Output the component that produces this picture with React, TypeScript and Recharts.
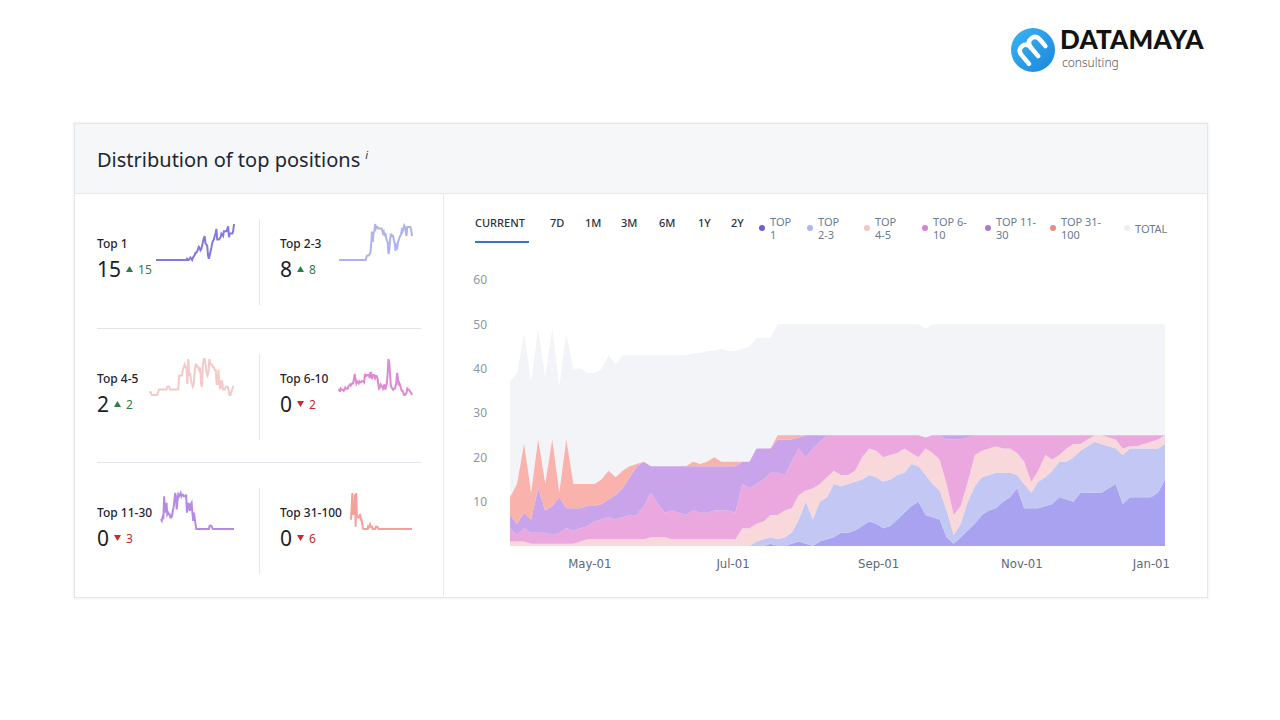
import { Area, AreaChart, Line, LineChart, XAxis, YAxis } from "recharts";

const FONT = "'Noto Sans', 'Open Sans', sans-serif";
const DAY = 86400000;
const START = Date.UTC(2022, 2, 28);
const STEP_DAYS = 3;
const MONTHS = ["Jan", "Feb", "Mar", "Apr", "May", "Jun", "Jul", "Aug", "Sep", "Oct", "Nov", "Dec"];

// daily position counts, one sample every 3 days
const top1 = [
  0, 0, 0, 0, 0, 0, 0, 0, 0, 0,
  0, 0, 0, 0, 0, 0, 0, 0, 0, 0,
  0, 0, 0, 0, 0, 0, 0, 0, 0, 0,
  0, 0, 0, 0, 0, 0, 0, 0.5, 0, 0,
  0.5, 1, 0.5, 0, 1, 1.5, 2, 3, 3, 3.5,
  4.5, 5.5, 5, 4, 4.5, 6, 7.5, 9, 10, 7,
  6.5, 6, 2, 0.5, 2, 3.5, 5, 7, 8, 8.5,
  10, 11, 13, 8.5, 8.5, 8.5, 9, 9.5, 11, 10.5,
  10, 12, 12, 12, 12, 13, 14, 9.5, 11, 11,
  11, 11, 12, 15,
];
const top2to3 = [
  0, 0, 0, 0, 0, 0, 0, 0, 0, 0,
  0, 0, 0, 0, 0, 0, 0, 0, 0, 0,
  0, 0, 0, 0, 0, 0, 0, 0, 0, 0,
  0, 0, 0, 0, 0, 1, 1.5, 1.5, 1.5, 2,
  2.5, 5, 9.5, 6, 9, 9.5, 12, 10.5, 11, 11,
  10.5, 10.5, 10.5, 10.5, 10.5, 10, 9, 9.5, 8, 9,
  7.5, 6.5, 6, 2, 3, 6.5, 8.5, 8.5, 8, 8,
  6.5, 5.5, 3, 5.5, 3.5, 6, 6.5, 7.5, 8, 8.5,
  10, 9.5, 10.5, 11.5, 11, 9.5, 8, 11, 11, 11,
  11, 11, 10, 8,
];
const top4to5 = [
  1, 1, 1, 0.5, 0.5, 0.5, 0.5, 0.5, 0.5, 0.5,
  1, 1.5, 1.5, 1.5, 1.5, 1.5, 1.5, 1.5, 1.5, 1.5,
  2, 2, 2, 1.5, 1.5, 1.5, 1.5, 1.5, 1.5, 1.5,
  1.5, 1.5, 1.5, 4, 4, 4, 4, 5, 5.5, 6,
  5.5, 5.5, 2.5, 7, 4, 4.5, 3, 2.5, 2, 2.5,
  5, 6, 6, 5.5, 5.5, 5, 5.5, 2.5, 2, 6,
  7, 7, 6, 4.5, 4, 4.5, 7, 6, 6, 6,
  5.5, 5.5, 5, 5, 2.5, 2.5, 5, 2.5, 1.5, 3,
  3, 1.5, 1.5, 1.5, 2, 2, 2, 1.5, 0.5, 0.5,
  1, 1.5, 2, 2,
];
const top6to10 = [
  3, 1.5, 3, 2.5, 2.5, 2.5, 2, 2.5, 3.5, 3,
  3, 3, 4, 4.5, 5, 4.5, 5, 5.5, 5.5, 7.5,
  10, 7.5, 5.5, 6.5, 6, 5.5, 6.5, 6, 6, 6.5,
  6.5, 6.5, 6, 10, 9, 9, 9.5, 9.5, 9.5, 8,
  10.5, 10.5, 7.5, 9, 9.5, 9.5, 8, 9, 9, 8,
  5, 3, 3.5, 5, 4.5, 4, 3, 4, 5, 2.5,
  4, 5.5, 10, 17, 15, 10, 4.5, 3.5, 3, 2.5,
  3, 3, 4, 6, 10.5, 8, 4.5, 5.5, 4.5, 3,
  2, 2, 1, 0, 0, 0.5, 1, 3, 2.5, 2.5,
  2, 1.5, 1, 0,
];
const top11to30 = [
  3, 2.5, 3.5, 3, 10, 5, 6.5, 8, 4.5, 5,
  4.5, 4.5, 3.5, 3.5, 4, 5.5, 6.5, 8.5, 11, 10,
  6, 8.5, 10.5, 10, 10.5, 11, 10, 10.5, 10.5, 10,
  10, 10, 10.5, 5, 6, 8, 7, 5.5, 7.5, 8,
  5, 2.5, 5, 3, 1.5, 0, 0, 0, 0, 0,
  0, 0, 0, 0, 0, 0, 0, 0, 0, 0,
  0, 0, 1, 1, 1, 0.5, 0, 0, 0, 0,
  0, 0, 0, 0, 0, 0, 0, 0, 0, 0,
  0, 0, 0, 0, 0, 0, 0, 0, 0, 0,
  0, 0, 0, 0,
];
const top31to100 = [
  4, 9, 15.5, 6, 11, 6, 15, 1, 15.5, 5.5,
  5.5, 5, 5, 5.5, 6.5, 4, 4, 2.5, 0.5, 0,
  0, 0, 0, 0, 0, 0, 1, 0.5, 1, 2,
  1, 1, 1, 0, 0, 0, 0, 0, 1, 1,
  1, 0.5, 0, 0, 0, 0, 0, 0, 0, 0,
  0, 0, 0, 0, 0, 0, 0, 0, 0, 0,
  0, 0, 0, 0, 0, 0, 0, 0, 0, 0,
  0, 0, 0, 0, 0, 0, 0, 0, 0, 0,
  0, 0, 0, 0, 0, 0, 0, 0, 0, 0,
  0, 0, 0, 0,
];
const total = [
  37, 39, 48, 37, 49, 38, 49, 36, 48, 40,
  40, 39, 39, 40, 43, 41, 43, 43, 43, 43,
  43, 43, 43, 43, 43, 43, 43.5, 43.5, 44, 44,
  44.5, 44, 44, 44.5, 45, 47, 47, 47, 50, 50,
  50, 50, 50, 50, 50, 50, 50, 50, 50, 50,
  50, 50, 50, 50, 50, 50, 50, 50, 50, 49,
  50, 50, 50, 50, 50, 50, 50, 50, 50, 50,
  50, 50, 50, 50, 50, 50, 50, 50, 50, 50,
  50, 50, 50, 50, 50, 50, 50, 50, 50, 50,
  50, 50, 50, 50,
];

const currentCounts = [15, 8, 2, 0, 0, 0];
const changes = [15, 8, 2, -2, -3, -6];
const tabs = ["CURRENT", "7D", "1M", "3M", "6M", "1Y", "2Y"];
const xTicks = [
  Date.UTC(2022, 4, 1),
  Date.UTC(2022, 6, 1),
  Date.UTC(2022, 8, 1),
  Date.UTC(2022, 10, 1),
  Date.UTC(2023, 0, 1),
];
const yTicks = [10, 20, 30, 40, 50, 60];

const SERIES = [
  { key: "top1", label: "Top 1", legend: ["TOP", "1"], values: top1, fill: "#a8a2f1", line: "#8279e2", dot: "#6c60d4" },
  { key: "top23", label: "Top 2-3", legend: ["TOP", "2-3"], values: top2to3, fill: "#c3c7f4", line: "#aeb2f1", dot: "#b0b4f2" },
  { key: "top45", label: "Top 4-5", legend: ["TOP", "4-5"], values: top4to5, fill: "#f8d8da", line: "#f3c9c9", dot: "#f3c6c6" },
  { key: "top610", label: "Top 6-10", legend: ["TOP 6-", "10"], values: top6to10, fill: "#eaa8df", line: "#df88d4", dot: "#dd7dd5" },
  { key: "top1130", label: "Top 11-30", legend: ["TOP 11-", "30"], values: top11to30, fill: "#caa4ea", line: "#b48ae4", dot: "#a97adc" },
  { key: "top31100", label: "Top 31-100", legend: ["TOP 31-", "100"], values: top31to100, fill: "#f9b2ac", line: "#f5a09a", dot: "#ee8a82" },
];

const dates = total.map((_, i) => START + i * STEP_DAYS * DAY);
const rows = dates.map((t, i) => {
  const row: Record<string, number> = { t, total: total[i] };
  SERIES.forEach((s) => (row[s.key] = s.values[i]));
  return row;
});

const fmtDate = (v: number) => {
  const d = new Date(v);
  return `${MONTHS[d.getUTCMonth()]}-${String(d.getUTCDate()).padStart(2, "0")}`;
};

const DateTick = (props: any) => {
  const { x, y, payload } = props;
  const last = payload.value === xTicks[xTicks.length - 1];
  return (
    <text
      x={last ? x + 5 : x}
      y={y}
      dy={14}
      textAnchor={last ? "end" : "middle"}
      fill="#5d6878"
      fontSize={13}
      fontFamily="'DejaVu Sans Condensed', 'Liberation Sans Narrow', sans-serif"
    >
      {fmtDate(payload.value)}
    </text>
  );
};

const Triangle = ({ up }: { up: boolean }) => (
  <svg width={7} height={6} style={{ margin: "0 5px 0 5px", verticalAlign: "middle" }}>
    <polygon points={up ? "0,6 3.5,0 7,6" : "0,0 7,0 3.5,6"} fill={up ? "#2e7b4f" : "#c62a2a"} />
  </svg>
);

const SPARK_WIDTHS = [80, 75, 87, 75, 75, 63];
const ROW_TOPS = [193, 328, 462];
const CELL_LEFTS = [97, 280];
const CELL_RIGHTS = [235, 413];

function StatCell({ idx }: { idx: number }) {
  const s = SERIES[idx];
  const row = Math.floor(idx / 2);
  const col = idx % 2;
  const top = ROW_TOPS[row];
  const change = changes[idx];
  const w = SPARK_WIDTHS[idx];
  const spark = s.values.map((v, i) => ({ i, v }));
  return (
    <>
      <div
        style={{
          position: "absolute",
          left: CELL_LEFTS[col],
          top: top + 43,
          fontSize: 12,
          lineHeight: "16px",
          fontWeight: 500,
          color: "#1f2430",
        }}
      >
        {s.label}
      </div>
      <div
        style={{
          position: "absolute",
          left: CELL_LEFTS[col],
          top: top + 63,
          height: 26,
          display: "flex",
          alignItems: "center",
          whiteSpace: "nowrap",
        }}
      >
        <span style={{ fontSize: 21, color: "#1a1e27" }}>{currentCounts[idx]}</span>
        <Triangle up={change > 0} />
        <span style={{ fontSize: 12, color: change > 0 ? "#2e7b4f" : "#c62a2a" }}>{Math.abs(change)}</span>
      </div>
      <div style={{ position: "absolute", left: CELL_RIGHTS[col] - w, top: top + 28 }}>
        <LineChart width={w} height={42} data={spark} margin={{ top: 3, right: 1, bottom: 3, left: 1 }}>
          <XAxis dataKey="i" type="number" domain={["dataMin", "dataMax"]} hide />
          <YAxis domain={["dataMin", "dataMax"]} hide />
          <Line
            dataKey="v"
            type="linear"
            stroke={s.line}
            strokeWidth={2}
            dot={false}
            isAnimationActive={false}
          />
        </LineChart>
      </div>
    </>
  );
}

function Logo() {
  return (
    <>
      <svg width={50} height={50} style={{ position: "absolute", left: 1008, top: 25 }}>
        <defs>
          <linearGradient id="lg" x1="0" y1="0" x2="1" y2="1">
            <stop offset="0" stopColor="#3ab4f2" />
            <stop offset="1" stopColor="#1a86dc" />
          </linearGradient>
        </defs>
        <circle cx={25} cy={25} r={22} fill="url(#lg)" />
        <g transform="rotate(-40 25 25)" fill="none" stroke="#fff" strokeWidth={4.5} strokeLinecap="round">
          <path d="M13 33 V22 q0 -7 6 -7 q6 0 6 7 V33" />
          <path d="M25 22 q0 -7 6 -7 q6 0 6 7 V30" />
        </g>
      </svg>
      <div
        style={{
          position: "absolute",
          left: 1060,
          top: 26,
          fontFamily: "Lato, 'Noto Sans', sans-serif",
          fontWeight: 900,
          fontSize: 26,
          lineHeight: "26px",
          letterSpacing: 0.2,
          color: "#121212",
        }}
      >
        DATAMAYA
      </div>
      <div
        style={{
          position: "absolute",
          left: 1062,
          top: 56,
          fontFamily: FONT,
          fontWeight: 300,
          fontSize: 12,
          lineHeight: "14px",
          color: "#555",
        }}
      >
        consulting
      </div>
    </>
  );
}

const LEGEND_X = [762, 810, 867, 925, 988, 1053, 1127];

export default function App() {
  return (
    <div
      style={{
        position: "absolute",
        left: 0,
        top: 0,
        width: 1280,
        height: 720,
        background: "#fff",
        fontFamily: FONT,
        overflow: "hidden",
      }}
    >
      <Logo />

      {/* card */}
      <div
        style={{
          position: "absolute",
          left: 74,
          top: 123,
          width: 1132,
          height: 473,
          border: "1px solid #e3e6ea",
          boxShadow: "0 0 2px 1px rgba(0,0,0,0.05)",
          background: "#fff",
        }}
      />
      <div
        style={{
          position: "absolute",
          left: 75,
          top: 124,
          width: 1132,
          height: 69,
          background: "#f6f7f9",
          borderBottom: "1px solid #e7e9ed",
        }}
      />
      <div style={{ position: "absolute", left: 97, top: 146, fontSize: 20, color: "#1d2736", whiteSpace: "nowrap" }}>
        Distribution of top positions
        <span style={{ fontSize: 11, fontStyle: "italic", verticalAlign: 8, marginLeft: 5, color: "#333" }}>i</span>
      </div>
      <div style={{ position: "absolute", left: 443, top: 194, width: 1, height: 402, background: "#e7e9ed" }} />

      {/* left panel */}
      {[328, 462].map((y) => (
        <div key={y} style={{ position: "absolute", left: 97, top: y, width: 324, height: 1, background: "#e2e5e9" }} />
      ))}
      {ROW_TOPS.map((y) => (
        <div key={y} style={{ position: "absolute", left: 259, top: y + 26, width: 1, height: 86, background: "#e2e5e9" }} />
      ))}
      {SERIES.map((s, i) => (
        <StatCell key={s.key} idx={i} />
      ))}

      {/* tabs */}
      {tabs.map((t, i) => (
        <div
          key={t}
          style={{
            position: "absolute",
            left: [475, 550, 585, 621, 659, 698, 731][i],
            top: 215,
            fontSize: 11,
            lineHeight: "16px",
            fontWeight: 500,
            color: "#2a3140",
          }}
        >
          {t}
        </div>
      ))}
      <div style={{ position: "absolute", left: 475, top: 241, width: 54, height: 2, background: "#2f7bbd" }} />

      {/* legend */}
      {[...SERIES.map((s) => ({ lines: s.legend, dot: s.dot })), { lines: ["TOTAL"], dot: "#eceef3" }].map((item, i) => (
        <div key={i} style={{ position: "absolute", left: LEGEND_X[i] - 3, top: 214, display: "flex", alignItems: "center", height: 28 }}>
          <div style={{ width: 6, height: 6, borderRadius: 3, background: item.dot, marginRight: 5 }} />
          <div style={{ fontSize: 11, lineHeight: "13px", color: "#6a7b93", whiteSpace: "nowrap" }}>
            {item.lines.map((l) => (
              <div key={l}>{l}</div>
            ))}
          </div>
        </div>
      ))}

      {/* main stacked area chart */}
      <div style={{ position: "absolute", left: 460, top: 260 }}>
        <AreaChart width={720} height={316} data={rows} margin={{ top: 20, right: 15, bottom: 0, left: 0 }}>
          <XAxis
            dataKey="t"
            type="number"
            domain={[dates[0], dates[dates.length - 1]]}
            ticks={xTicks}
            interval={0}
            tick={<DateTick />}
            axisLine={false}
            tickLine={false}
            height={30}
          />
          <YAxis
            domain={[0, 60]}
            ticks={yTicks}
            width={50}
            axisLine={false}
            tickLine={false}
            tickMargin={17}
            tick={{ fill: "#8b97a8", fontSize: 12, fontFamily: FONT }}
          />
          <Area
            dataKey="total"
            type="linear"
            fill="#f3f4f8"
            fillOpacity={1}
            stroke="none"
            isAnimationActive={false}
          />
          {SERIES.map((s) => (
            <Area
              key={s.key}
              dataKey={s.key}
              stackId="pos"
              type="linear"
              fill={s.fill}
              fillOpacity={1}
              stroke="none"
              isAnimationActive={false}
            />
          ))}
        </AreaChart>
      </div>
    </div>
  );
}
